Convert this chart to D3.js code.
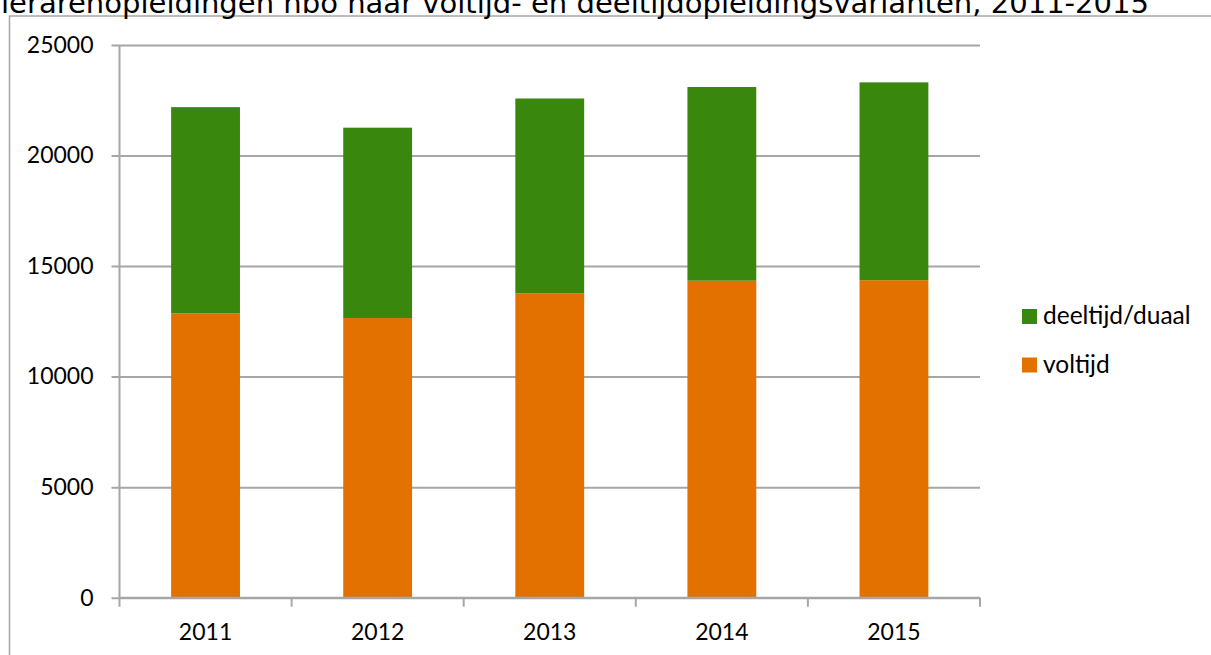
<!DOCTYPE html>
<html>
<head>
<meta charset="utf-8">
<script src="https://cdn.jsdelivr.net/npm/d3@7"></script>
<style>
  html, body { margin: 0; padding: 0; background: #fff; }
  svg { display: block; }
</style>
</head>
<body>
<svg id="chart" width="1211" height="655"></svg>
<script>
'use strict';

const title = "lerarenopleidingen hbo naar voltijd- en deeltijdopleidingsvarianten, 2011-2015";
const years = ["2011", "2012", "2013", "2014", "2015"];
const voltijd = [12860, 12650, 13770, 14340, 14360];
const deeltijd = [9330, 8610, 8810, 8760, 8950];   // stacked on top of voltijd
const yTicks = [0, 5000, 10000, 15000, 20000, 25000];
const seriesNames = ["voltijd", "deeltijd/duaal"];
const seriesColours = ["#e27100", "#3a870e"];

const svg = d3.select("#chart");
const width = 1211;
const height = 655;

const margin = {left: 119.5, right: width - 980, top: 45, bottom: height - 597.7};

const x = d3.scaleBand()
    .domain(years)
    .range([margin.left, width - margin.right])
    .paddingInner(0.6)
    .paddingOuter(0.3);

const y = d3.scaleLinear()
    .domain([0, 25000])
    .range([height - margin.bottom, margin.top]);

const gridColour = "#a6a6a6";
const labelFont = "Lato, 'Open Sans', sans-serif";

// chart frame (only top and left edges are inside the picture)
svg.append("path")
  .attr("d", `M9.5,${height + 5}V16H${width + 5}`)
  .attr("fill", "none")
  .attr("stroke", gridColour)
  .attr("stroke-width", 1.5);

// title, cut off at the top like the source
svg.append("text")
  .attr("x", 1)
  .attr("y", 13)
  .attr("font-family", "DejaVu Sans")
  .attr("font-size", 29)
  .attr("textLength", 1148)
  .attr("lengthAdjust", "spacingAndGlyphs")
  .attr("fill", "#000")
  .text(title);

// gridlines + y axis
const yAxis = d3.axisLeft(y)
    .tickValues(yTicks)
    .tickSize(-(width - margin.right - margin.left))
    .tickFormat(d3.format("d"));

const gy = svg.append("g")
  .attr("transform", `translate(${margin.left},0)`)
  .call(yAxis);

gy.select(".domain").remove();
gy.selectAll(".tick line")
  .attr("x1", -8)
  .attr("stroke", gridColour)
  .attr("stroke-width", 2);
gy.selectAll(".tick text")
  .attr("x", -26)
  .attr("font-family", labelFont)
  .attr("font-size", 23)
  .attr("fill", "#000");

// y axis line
svg.append("line")
  .attr("x1", margin.left).attr("x2", margin.left)
  .attr("y1", y(25000)).attr("y2", y(0))
  .attr("stroke", gridColour)
  .attr("stroke-width", 2);

// bars
const stackData = years.map((yr, i) => ({year: yr, voltijd: voltijd[i], deeltijd: deeltijd[i]}));
const stack = d3.stack().keys(["voltijd", "deeltijd"]);
const layers = stack(stackData);

svg.append("g")
  .selectAll("g")
  .data(layers)
  .join("g")
    .attr("fill", (d, i) => seriesColours[i])
  .selectAll("rect")
  .data(d => d)
  .join("rect")
    .attr("x", d => x(d.data.year))
    .attr("width", x.bandwidth())
    .attr("y", d => y(d[1]))
    .attr("height", d => y(d[0]) - y(d[1]));

// x axis
const xBoundaries = d3.range(years.length + 1).map(i => margin.left + i * (width - margin.right - margin.left) / years.length);

svg.append("line")
  .attr("x1", margin.left).attr("x2", width - margin.right)
  .attr("y1", y(0)).attr("y2", y(0))
  .attr("stroke", gridColour)
  .attr("stroke-width", 2);

svg.append("g")
  .selectAll("line")
  .data(xBoundaries)
  .join("line")
    .attr("x1", d => d).attr("x2", d => d)
    .attr("y1", y(0)).attr("y2", y(0) + 9)
    .attr("stroke", gridColour)
    .attr("stroke-width", 2);

svg.append("g")
  .selectAll("text")
  .data(years)
  .join("text")
    .attr("x", d => x(d) + x.bandwidth() / 2)
    .attr("y", 640)
    .attr("text-anchor", "middle")
    .attr("font-family", labelFont)
    .attr("font-size", 23)
    .attr("fill", "#000")
    .text(d => d);

// legend (top entry is the upper series)
const legendItems = [1, 0];
const legend = svg.append("g")
  .selectAll("g")
  .data(legendItems)
  .join("g")
    .attr("transform", (d, i) => `translate(1022,${309 + i * 48.5})`);

legend.append("rect")
  .attr("width", 15)
  .attr("height", 15)
  .attr("fill", d => seriesColours[d]);

legend.append("text")
  .attr("x", 21)
  .attr("y", 15)
  .attr("font-family", labelFont)
  .attr("font-size", 24.5)
  .attr("fill", "#000")
  .text(d => seriesNames[d]);
</script>
</body>
</html>
